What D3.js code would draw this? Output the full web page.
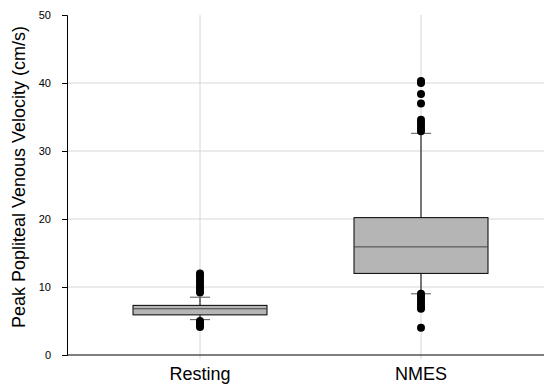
<!DOCTYPE html>
<html>
<head>
<meta charset="utf-8">
<script src="https://cdn.jsdelivr.net/npm/d3@7"></script>
<style>
  body { margin: 0; background: #fff; }
  svg text { font-family: "Liberation Sans", Arial, sans-serif; fill: #000; }
</style>
</head>
<body>
<div id="chart"></div>
<script>
// box plot values
const groups = ["Resting", "NMES"];
const q1 = [5.9, 12.0];
const median = [6.8, 15.9];
const q3 = [7.3, 20.2];
const whiskLow = [5.2, 9.0];
const whiskHigh = [8.5, 32.6];
const outRest = [12.0, 11.6, 11.2, 10.8, 10.4, 10.0, 9.6, 9.2, 5.0, 4.7, 4.4, 4.1];
const outNmes = [40.3, 40.0, 38.4, 37.0, 34.6, 34.2, 33.8, 33.3, 32.9, 9.0, 8.6, 8.2, 7.8, 7.4, 7.0, 6.8, 4.0];
const yTicks = [0, 10, 20, 30, 40, 50];

const width = 550, height = 388;
const margin = {top: 15, right: 6, bottom: 33, left: 67};

const svg = d3.select("#chart").append("svg")
  .attr("width", width)
  .attr("height", height);

const xScale = d3.scalePoint()
  .domain(groups)
  .range([200, 421]);

const yScale = d3.scaleLinear()
  .domain([0, 50])
  .range([height - margin.bottom, margin.top]);

const boxW = 134, capW = 20;

// grid
svg.append("g").selectAll("line.hg")
  .data(yTicks.filter(d => d > 0 && d < 50))
  .enter().append("line")
  .attr("x1", margin.left).attr("x2", width - margin.right)
  .attr("y1", d => yScale(d)).attr("y2", d => yScale(d))
  .attr("stroke", "#d6d6d6").attr("stroke-width", 1);

svg.append("g").selectAll("line.vg")
  .data(groups)
  .enter().append("line")
  .attr("x1", d => xScale(d)).attr("x2", d => xScale(d))
  .attr("y1", margin.top).attr("y2", height - margin.bottom + 4)
  .attr("stroke", "#d6d6d6").attr("stroke-width", 1);

// y axis
const yAxis = d3.axisLeft(yScale).tickValues(yTicks).tickSize(5).tickPadding(11);
const gy = svg.append("g")
  .attr("transform", "translate(" + margin.left + ",0)")
  .call(yAxis);
gy.select(".domain").attr("stroke", "#000");
gy.selectAll(".tick line").attr("stroke", "#000");
gy.selectAll(".tick text").style("font-size", "11px");

// x axis line
svg.append("line")
  .attr("x1", margin.left).attr("x2", width - margin.right)
  .attr("y1", yScale(0)).attr("y2", yScale(0))
  .attr("stroke", "#000");

svg.append("g").selectAll("text.xl")
  .data(groups)
  .enter().append("text")
  .attr("x", d => xScale(d))
  .attr("y", 380)
  .attr("text-anchor", "middle")
  .style("font-size", "18px")
  .text(d => d);

svg.append("text")
  .attr("transform", "translate(25,177) rotate(-90)")
  .attr("text-anchor", "middle")
  .style("font-size", "18px")
  .text("Peak Popliteal Venous Velocity (cm/s)");

// boxes
groups.forEach((g, i) => {
  const cx = xScale(g);
  const el = svg.append("g");
  el.append("line")
    .attr("x1", cx).attr("x2", cx)
    .attr("y1", yScale(whiskHigh[i])).attr("y2", yScale(q3[i]))
    .attr("stroke", "#000");
  el.append("line")
    .attr("x1", cx).attr("x2", cx)
    .attr("y1", yScale(q1[i])).attr("y2", yScale(whiskLow[i]))
    .attr("stroke", "#000");
  [whiskHigh[i], whiskLow[i]].forEach(v => {
    el.append("line")
      .attr("x1", cx - capW / 2).attr("x2", cx + capW / 2)
      .attr("y1", yScale(v)).attr("y2", yScale(v))
      .attr("stroke", "#555");
  });
  el.append("rect")
    .attr("x", cx - boxW / 2)
    .attr("width", boxW)
    .attr("y", yScale(q3[i]))
    .attr("height", yScale(q1[i]) - yScale(q3[i]))
    .attr("fill", "#b5b5b5")
    .attr("stroke", "#000");
  el.append("line")
    .attr("x1", cx - boxW / 2).attr("x2", cx + boxW / 2)
    .attr("y1", yScale(median[i])).attr("y2", yScale(median[i]))
    .attr("stroke", "#444");
  const outs = i === 0 ? outRest : outNmes;
  el.selectAll("circle")
    .data(outs)
    .enter().append("circle")
    .attr("cx", cx)
    .attr("cy", d => yScale(d))
    .attr("r", 4)
    .attr("fill", "#000");
});
</script>
</body>
</html>
